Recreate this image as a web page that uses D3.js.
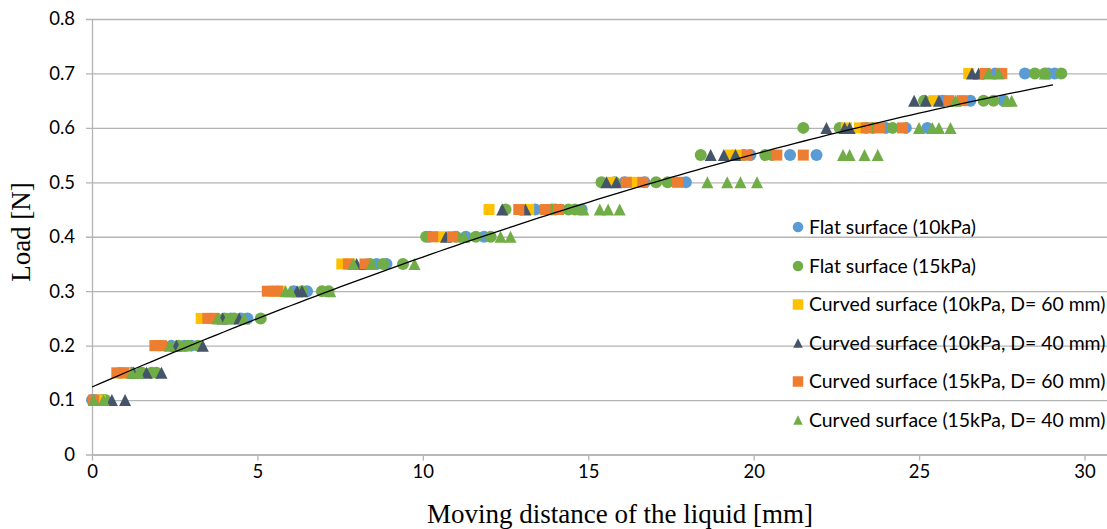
<!DOCTYPE html>
<html>
<head>
<meta charset="utf-8">
<script src="https://cdnjs.cloudflare.com/ajax/libs/d3/7.8.5/d3.min.js"></script>
<style>
  body { margin: 0; background: #fff; }
  svg { display: block; }
</style>
</head>
<body>
<svg id="chart" width="1107" height="529"></svg>
<script>
// axis ticks
const xTicks = [0, 5, 10, 15, 20, 25, 30];
const yTicks = [0, 0.1, 0.2, 0.3, 0.4, 0.5, 0.6, 0.7, 0.8];

// load steps (N); every series has a list of distances (mm) per step
const loadLevels = [0.1, 0.15, 0.2, 0.25, 0.3, 0.35, 0.4, 0.45, 0.5, 0.55, 0.6, 0.65, 0.7];

const flat10 = [
  [0, 0.1], [1.2, 1.5], [2.4, 2.8, 3.0], [4.2, 4.5, 4.7], [6.1, 6.5], [8.6, 8.9],
  [10.2, 11.3, 11.85], [13.4, 14.0, 14.8], [16.1, 16.7, 17.95], [19.9, 21.1, 21.9],
  [23.4, 24.0, 24.6, 25.25], [25.7, 26.55, 27.55], [27.3, 28.2, 28.9, 29.1]
];
const flat15 = [
  [0.3, 0.4], [1.5, 1.8, 1.95], [2.6, 2.9, 3.2], [4.0, 4.3, 5.1], [6.35, 6.95, 7.15], [8.4, 8.8, 9.4],
  [10.1, 11.0, 11.6, 12.05], [12.5, 13.9, 14.4, 14.6], [15.4, 15.8, 17.05, 17.4], [18.4, 19.7, 20.35, 20.55],
  [21.5, 22.6, 23.6, 24.2], [25.15, 26.95, 27.25], [28.5, 28.8, 29.3]
];
const curved10d60 = [
  [0.25], [0.9, 1.0], [2.0], [3.3, 3.6], [5.5, 5.7], [7.55, 7.8],
  [10.5], [12.0, 13.2], [15.7, 16.35], [19.3, 19.5],
  [22.8, 23.2], [25.45], [26.5]
];
const curved10d40 = [
  [0.6, 1.0], [1.25, 1.65, 2.1], [2.55, 3.35], [3.95, 4.45], [6.2, 6.35], [8.0, 8.3],
  [10.7], [12.4, 13.1], [15.55, 15.85], [18.7, 19.1, 19.45],
  [22.2, 22.75, 22.9], [24.85, 25.2, 25.6], [26.6, 26.8]
];
const curved15d60 = [
  [0.05], [0.75, 0.95], [1.9, 2.1], [3.5, 3.7], [5.3, 5.6], [7.75, 8.25],
  [10.3, 10.9], [12.9, 13.7, 14.1], [16.15, 16.65, 17.7], [19.8, 20.7, 21.5],
  [23.4, 23.8, 24.5], [25.9, 26.3], [27.0, 27.5]
];
const curved15d40 = [
  [0.05, 0.35], [1.2, 1.4], [2.35, 2.7], [3.8, 4.1, 4.6], [5.85, 6.0, 7.2], [7.9, 8.45, 9.75],
  [11.25, 12.35, 12.65], [14.85, 15.35, 15.6, 15.95], [18.6, 19.2, 19.6, 20.1], [22.7, 22.9, 23.35, 23.75],
  [25.0, 25.4, 25.6, 25.95], [26.1, 27.65, 27.8], [27.1, 27.4, 28.8]
];

const seriesNames = [
  "Flat surface (10kPa)",
  "Flat surface (15kPa)",
  "Curved surface (10kPa, D= 60 mm)",
  "Curved surface (10kPa, D= 40 mm)",
  "Curved surface (15kPa, D= 60 mm)",
  "Curved surface (15kPa, D= 40 mm)"
];
const seriesData = [flat10, flat15, curved10d60, curved10d40, curved15d60, curved15d40];
const seriesColors = ["#5b9bd5", "#70ad47", "#ffc000", "#44546a", "#ed7d31", "#70ad47"];
const seriesShapes = ["circle", "circle", "square", "triangle", "square", "triangle"];

// 2nd order polynomial trend line: load = c0 + c1*x + c2*x^2, drawn over trendDomain
const trendCoef = [0.124, 0.02638, -0.0002504];
const trendDomain = [0, 29.05];

const svg = d3.select("#chart");
const plotLeft = 92, plotRight = 1107, plotTop = 19, plotBottom = 454.5;

const x = d3.scaleLinear().domain([0, 30.68]).range([plotLeft, plotRight]);
const y = d3.scaleLinear().domain([0, 0.8]).range([plotBottom, plotTop]);

const gridColor = "#b4b4b4";
const tickFont = "Lato, 'Open Sans', sans-serif";

// horizontal gridlines + left axis
const yAxis = d3.axisLeft(y)
  .tickValues(yTicks)
  .tickSize(-(plotRight - plotLeft))
  .tickSizeOuter(0)
  .tickPadding(17)
  .tickFormat(d => d === 0 ? "0" : d3.format(".1f")(d));

const gy = svg.append("g")
  .attr("transform", `translate(${plotLeft},0)`)
  .call(yAxis);
gy.select(".domain").attr("stroke", gridColor).attr("stroke-width", 1.3);
gy.selectAll(".tick line").attr("stroke", gridColor).attr("stroke-width", 1.3).attr("x1", -6);
gy.selectAll(".tick text")
  .attr("fill", "#000")
  .attr("font-family", tickFont)
  .attr("font-size", 18.5);

// bottom axis
const xAxis = d3.axisBottom(x)
  .tickValues(xTicks)
  .tickSize(6)
  .tickSizeOuter(0)
  .tickPadding(4);

const gx = svg.append("g")
  .attr("transform", `translate(0,${plotBottom})`)
  .call(xAxis);
gx.select(".domain").attr("stroke", gridColor).attr("stroke-width", 1.3);
gx.selectAll(".tick line").attr("stroke", gridColor).attr("stroke-width", 1.3);
gx.selectAll(".tick text")
  .attr("fill", "#000")
  .attr("font-family", tickFont)
  .attr("font-size", 18.5);

// marker shapes, size = width in px
const triangle = {
  draw(ctx, s) {
    const h = s / 2;
    ctx.moveTo(0, -h);
    ctx.lineTo(h, h);
    ctx.lineTo(-h, h);
    ctx.closePath();
  }
};
function markerPath(shape, w) {
  if (shape === "circle") return d3.symbol(d3.symbolCircle, Math.PI * w * w / 4)();
  if (shape === "square") return d3.symbol(d3.symbolSquare, w * w)();
  return d3.symbol(triangle, w)();
}
const markerSize = { circle: 12, square: 11, triangle: 12 };

// points
seriesData.forEach((series, si) => {
  const pts = [];
  series.forEach((xs, li) => xs.forEach(v => pts.push({ x: v, load: loadLevels[li] })));
  svg.append("g")
    .selectAll("path")
    .data(pts)
    .enter()
    .append("path")
    .attr("transform", d => `translate(${x(d.x)},${y(d.load)})`)
    .attr("d", markerPath(seriesShapes[si], markerSize[seriesShapes[si]]))
    .attr("fill", seriesColors[si]);
});

// trend line
const trendXs = d3.range(trendDomain[0], trendDomain[1], 0.25).concat([trendDomain[1]]);
const trendLine = d3.line()
  .x(d => x(d))
  .y(d => y(trendCoef[0] + trendCoef[1] * d + trendCoef[2] * d * d));

svg.append("path")
  .datum(trendXs)
  .attr("d", trendLine)
  .attr("fill", "none")
  .attr("stroke", "#000")
  .attr("stroke-width", 1.3);

// legend
const legend = svg.append("g");
const legendY = [227, 266, 304.5, 343, 381.5, 420];
seriesNames.forEach((name, i) => {
  const row = legend.append("g").attr("transform", `translate(798,${legendY[i]})`);
  row.append("path")
    .attr("d", markerPath(seriesShapes[i], seriesShapes[i] === "triangle" ? 9.5 : 10.5))
    .attr("fill", seriesColors[i]);
  row.append("text")
    .attr("x", 11)
    .attr("dy", "0.35em")
    .attr("font-family", tickFont)
    .attr("font-size", 19.4)
    .attr("fill", "#000")
    .text(name);
});

// axis titles
svg.append("text")
  .attr("transform", "translate(30,232) rotate(-90)")
  .attr("text-anchor", "middle")
  .attr("font-family", "'Liberation Serif', 'Times New Roman', serif")
  .attr("font-size", 27)
  .attr("fill", "#000")
  .text("Load [N]");

svg.append("text")
  .attr("x", 620)
  .attr("y", 523)
  .attr("text-anchor", "middle")
  .attr("font-family", "'Liberation Serif', 'Times New Roman', serif")
  .attr("font-size", 27)
  .attr("fill", "#000")
  .text("Moving distance of the liquid [mm]");
</script>
</body>
</html>
